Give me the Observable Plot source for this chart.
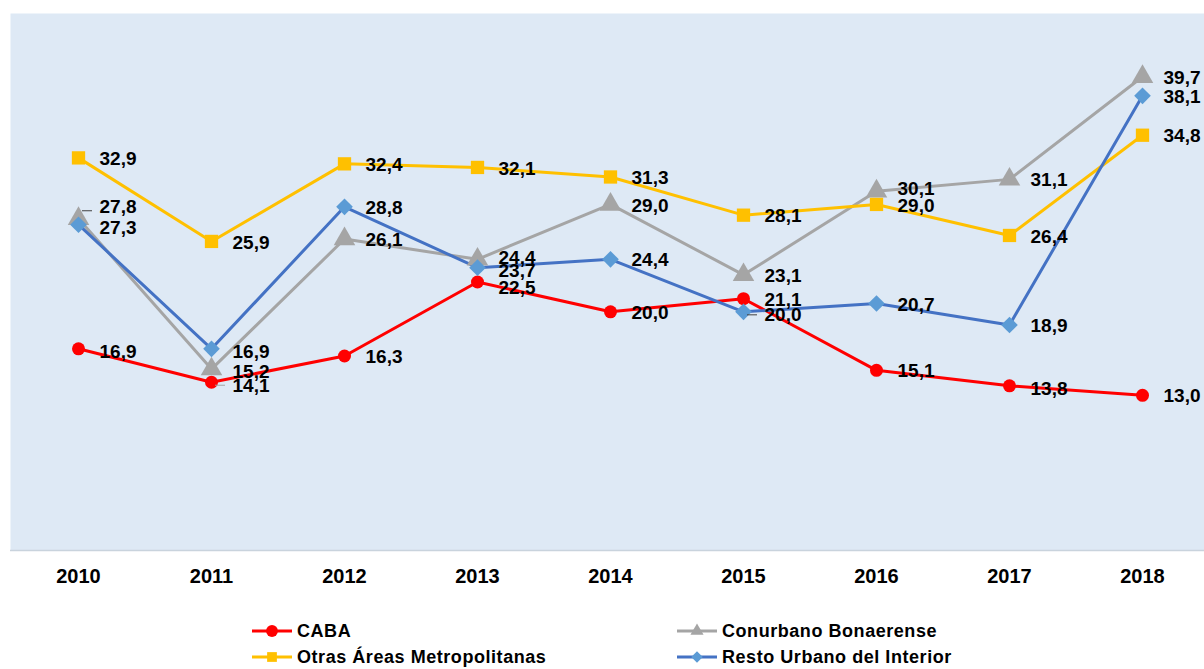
<!DOCTYPE html>
<html><head><meta charset="utf-8">
<script src="https://cdn.jsdelivr.net/npm/d3@7"></script>
<script src="https://cdn.jsdelivr.net/npm/@observablehq/plot@0.6"></script>
<style>
body{margin:0;background:#fff;font-family:"Liberation Sans",Arial,sans-serif;}
#wrap{position:relative;width:1204px;height:669px;overflow:hidden;}
#chart svg{display:block;}
.leg{position:absolute;display:flex;align-items:center;font-weight:bold;font-size:18px;letter-spacing:0.55px;color:#000;white-space:nowrap;}
.leg svg{margin-right:5px;}
</style></head>
<body><div id="wrap"><div id="chart"></div><div id="legend"></div></div>
<script>
const years = ["2010","2011","2012","2013","2014","2015","2016","2017","2018"];
const seriesNames = ["CABA","Conurbano Bonaerense","Otras Áreas Metropolitanas","Resto Urbano del Interior"];
const caba = [16.9,14.1,16.3,22.5,20.0,21.1,15.1,13.8,13.0];
const conurbano = [27.8,15.2,26.1,24.4,29.0,23.1,30.1,31.1,39.7];
const otras = [32.9,25.9,32.4,32.1,31.3,28.1,29.0,26.4,34.8];
const resto = [27.3,16.9,28.8,23.7,24.4,20.0,20.7,18.9,38.1];

const styles = {
  "CABA": {line:"#FF0000", fill:"#FF0000", symbol:"circle", r:6.5},
  "Conurbano Bonaerense": {line:"#A5A5A5", fill:"#A5A5A5", symbol:"triangle", r:8},
  "Otras Áreas Metropolitanas": {line:"#FFC000", fill:"#FFC000", symbol:"square", r:7.5},
  "Resto Urbano del Interior": {line:"#4472C4", fill:"#5B9BD5", symbol:"diamond2", r:7.5}
};
// label vertical nudges (layout only)
const nudge = {"Conurbano Bonaerense|2010":-13,"CABA|2013":5,"Conurbano Bonaerense|2016":-3,"CABA|2011":3,"Resto Urbano del Interior|2015":2,"Resto Urbano del Interior|2010":2,"Conurbano Bonaerense|2011":2,"CABA|2010":2,"Resto Urbano del Interior|2011":2,"CABA|2017":2,"Resto Urbano del Interior|2013":2,"Conurbano Bonaerense|2013":-2};

const valuesBySeries = [caba, conurbano, otras, resto];
const data = [];
seriesNames.forEach((s,i)=>years.forEach((y,j)=>data.push({series:s, year:y, value:valuesBySeries[i][j], ny: nudge[s+"|"+y]||0})));
const fmt = v => v.toFixed(1).replace(".", ",");

const marks = [
  Plot.frame({fill:"#DEE9F5", stroke:null}),
  Plot.ruleY([0], {stroke:"#C9D3DD", strokeWidth:1.5}),
];
for (const s of seriesNames) {
  const st = styles[s];
  marks.push(Plot.line(data.filter(e=>e.series===s), {x:"year", y:"value", stroke:st.line, strokeWidth:3}));
}
for (const s of seriesNames) {
  const st = styles[s];
  marks.push(Plot.dot(data.filter(e=>e.series===s), {x:"year", y:"value", symbol:()=>st.symbol, fill:st.fill, stroke:null, r:st.r}));
}
// leader lines for displaced labels
const leaders = [["Conurbano Bonaerense","2010",-8],["CABA","2011",3],["Resto Urbano del Interior","2015",3]];
for (const [s,y,dyL] of leaders) {
  const d = data.filter(e=>e.series===s && e.year===y);
  marks.push(Plot.ruleY(d, {x1:"year", x2:"year", y:"value", dy:dyL, dx:4, stroke:s==="CABA"?"#A5A5A5":"#404040", strokeWidth:1,
    render:(i,sc,v,dim,ctx,next)=>{const g=next(i,sc,v,dim,ctx); g.querySelectorAll("line").forEach(l=>{l.setAttribute("x2", +l.getAttribute("x1")+10);}); return g;}}));
}
const nudgeVals = [...new Set(data.map(e=>e.ny))];
for (const nv of nudgeVals) {
  marks.push(Plot.text(data.filter(e=>e.ny===nv), {x:"year", y:"value", text:e=>fmt(e.value), dx:21, dy:nv+1, textAnchor:"start", fontSize:19, fontWeight:"bold", fill:"#000", letterSpacing:"0.3px"}));
}
marks.push(Plot.axisX({tickSize:0, tickPadding:18, fontSize:20, fontWeight:"bold", fill:"#000", label:null, letterSpacing:"1px"}));

const chart = Plot.plot({
  width:1204, height:600,
  marginLeft:10, marginRight:0, marginTop:13, marginBottom:50,
  style:{fontFamily:"'Liberation Sans', Arial, sans-serif", background:"transparent", overflow:"visible"},
  x:{type:"point", domain:years, range:[77,1143], padding:0},
  y:{domain:[0,45], axis:null},
  marks
});
document.getElementById("chart").appendChild(chart);

// legend
const legPos = [[252,631],[677,631],[252,657],[677,657]];
const symMap = {circle:[d3.symbolCircle,110], triangle:[d3.symbolTriangle,75], square:[d3.symbolSquare,95], diamond2:[d3.symbolDiamond2,85]};
const legend = document.getElementById("legend");
seriesNames.forEach((s,i)=>{
  const st = styles[s];
  const div = document.createElement("div");
  div.className="leg";
  div.style.left = legPos[i][0]+"px";
  div.style.top = (legPos[i][1]-12)+"px";
  div.style.height="24px";
  const [type,size] = symMap[st.symbol];
  const sym = d3.symbol(type, size)();
  div.innerHTML = `<svg width="40" height="24"><line x1="0" x2="40" y1="12" y2="12" stroke="${st.line}" stroke-width="3"/><path d="${sym}" transform="translate(20,12)" fill="${st.fill}"/></svg><span>${s}</span>`;
  legend.appendChild(div);
});
</script></body></html>
